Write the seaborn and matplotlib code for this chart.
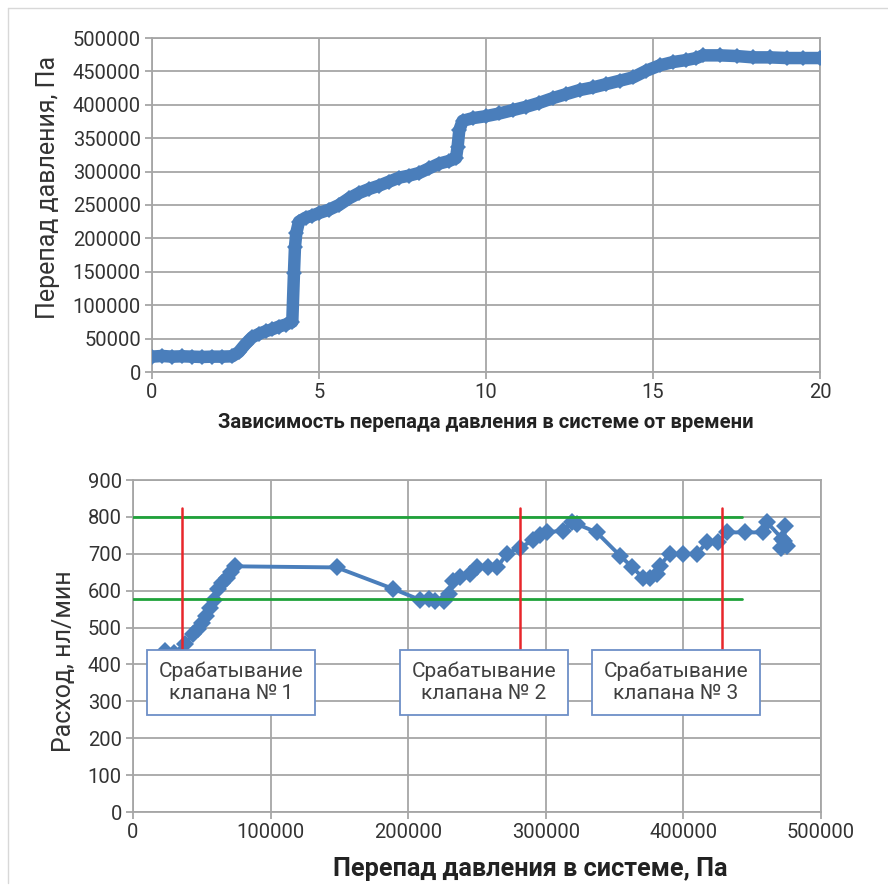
import matplotlib
matplotlib.use("Agg")
import matplotlib.pyplot as plt
import seaborn as sns
import pandas as pd
from matplotlib.lines import Line2D

# --- top chart: pressure drop vs time ---
time_s = [0.0, 0.3, 0.6, 0.9, 1.2, 1.5, 1.8, 2.1, 2.4, 2.6, 2.8, 3.0, 3.2, 3.4, 3.6, 3.8,
          4.0, 4.2, 4.25, 4.28, 4.32, 4.4, 4.6, 4.8, 5.0, 5.3, 5.6, 5.9, 6.2, 6.5, 6.8,
          7.1, 7.4, 7.7, 8.0, 8.3, 8.6, 8.9, 9.1, 9.15, 9.2, 9.3, 9.6, 10.0, 10.4, 10.8,
          11.2, 11.6, 12.0, 12.4, 12.8, 13.2, 13.6, 14.0, 14.4, 14.8, 15.2, 15.6, 16.0,
          16.3, 16.5, 17.0, 17.5, 18.0, 18.5, 19.0, 19.5, 20.0]
pressure_pa = [23000, 24000, 23000, 23500, 23000, 22500, 23000, 23000, 23500, 30000, 42000,
               52000, 57000, 61000, 64000, 68000, 71000, 75000, 148000, 187000, 208000,
               225000, 231000, 234000, 238000, 243000, 250000, 260000, 268000, 274000,
               279000, 285000, 291000, 294000, 298000, 305000, 312000, 316000, 320000,
               337000, 362000, 376000, 380000, 383000, 387000, 392000, 397000, 403000,
               410000, 416000, 422000, 426000, 431000, 436000, 441000, 451000, 459000,
               464000, 467000, 470000, 474000, 474000, 473000, 471000, 471000, 470000,
               470000, 470000]
top_xticks = [0, 5, 10, 15, 20]
top_yticks = [0, 50000, 100000, 150000, 200000, 250000, 300000, 350000, 400000, 450000, 500000]

# --- bottom chart: flow vs pressure drop ---
dp_pa = [23000, 30000, 37800, 43600, 47000, 50100, 53000, 56000, 59000, 61800, 65000, 68300,
         71000, 74100, 148000, 189000, 208600, 215000, 219500, 226000, 230000, 232600,
         238000, 245000, 250000, 258000, 264500, 271800, 281000, 290700, 296000, 300800,
         312500, 319000, 323000, 337000, 353900, 363000, 370600, 376000, 380800, 383000,
         390000, 400000, 409900, 417000, 425000, 431700, 445000, 457800, 460800, 472000,
         474000, 473000, 471000, 472000, 475000, 475000]
flow_nl = [437, 432, 455, 483, 497, 513, 530, 554, 575, 605, 620, 635, 650, 666, 663, 605,
           575, 578, 573, 573, 590, 627, 636, 645, 663, 663, 663, 700, 717, 736, 750, 758,
           763, 785, 780, 758, 695, 663, 635, 635, 646, 668, 700, 700, 700, 731, 731, 758,
           758, 758, 785, 785, 775, 735, 715, 695, 710, 730]
bot_xticks = [0, 100000, 200000, 300000, 400000, 500000]
bot_yticks = [0, 100, 200, 300, 400, 500, 600, 700, 800, 900]

limit_levels = [800, 578]
limit_x_end = 442600
valve_dp = [35400, 281250, 427800]
valve_top = 824
valve_labels = ["Срабатывание\nклапана №\u20091", "Срабатывание\nклапана № 2", "Срабатывание\nклапана № 3"]
valve_box_x = [71300, 255000, 394600]
valve_box_y = 351

sns.set_style("white")
plt.rcParams["font.family"] = ["Roboto", "DejaVu Sans"]

blue = "#4a7ebb"
grid_c = "#a6a6a6"
tick_c = "#333333"

fig = plt.figure(figsize=(8.88, 8.85), dpi=100)
ax1 = fig.add_axes([152 / 888, 1 - 372 / 885, 668 / 888, 334 / 885])
ax2 = fig.add_axes([133 / 888, 1 - 812 / 885, 688 / 888, 332 / 885])

top_df = pd.DataFrame({"t": time_s, "p": pressure_pa})
sns.lineplot(data=top_df, x="t", y="p", ax=ax1, color=blue, linewidth=9,
             marker="D", markersize=8, markeredgewidth=0, sort=False, zorder=3)

bot_df = pd.DataFrame({"dp": dp_pa, "q": flow_nl})
sns.lineplot(data=bot_df, x="dp", y="q", ax=ax2, color=blue, linewidth=2.8,
             marker="D", markersize=9, markeredgewidth=0, sort=False, zorder=3)

for lvl in limit_levels:
    ax2.plot([0, limit_x_end], [lvl, lvl], color="#1fa23a", linewidth=2, zorder=4)
for xv in valve_dp:
    ax2.plot([xv, xv], [valve_box_y, valve_top], color="#e8262b", linewidth=1.8, zorder=4)
for xv, lab in zip(valve_box_x, valve_labels):
    ax2.text(xv, valve_box_y, lab, ha="center", va="center", fontsize=15, color="#404040",
             linespacing=1.2, zorder=6,
             bbox=dict(boxstyle="square,pad=0.55", fc="white", ec="#6d8fc7", lw=1.3))

for ax, xt, yt in [(ax1, top_xticks, top_yticks), (ax2, bot_xticks, bot_yticks)]:
    ax.set_xticks(xt)
    ax.set_yticks(yt)
    ax.set_xlim(xt[0], xt[-1])
    ax.set_ylim(yt[0], yt[-1])
    ax.ticklabel_format(style="plain", useOffset=False)
    ax.grid(True, color=grid_c, linewidth=1.3)
    ax.set_axisbelow(True)
    for s in ax.spines.values():
        s.set_color(grid_c)
        s.set_linewidth(1.3)
    ax.tick_params(axis="both", colors=grid_c, labelcolor=tick_c, labelsize=14.5,
                   length=5, width=1.3, direction="out", left=True, bottom=True, pad=3)

ax1.set_xlabel("Зависимость перепада давления в системе от времени", fontsize=14.6,
               fontweight="bold", color="#222222", labelpad=8)
ax1.set_ylabel("Перепад давления, Па", fontsize=18, color="#333333")
ax1.yaxis.set_label_coords(-0.138, 0.554)
ax2.set_xlabel("Перепад давления в системе, Па", fontsize=18.2,
               fontweight="bold", color="#222222", labelpad=8)
ax2.xaxis.set_label_coords(0.577, -0.135)
ax2.set_ylabel("Расход, нл/мин", fontsize=18, color="#333333")
ax2.yaxis.set_label_coords(-0.083, 0.455)

# thin frame around the figure
fig.add_artist(Line2D([8 / 888, 8 / 888], [1 - 8 / 885, 1 - 883 / 885], color="#d8d8d8", lw=1))
fig.add_artist(Line2D([8 / 888, 1.0], [1 - 8 / 885, 1 - 8 / 885], color="#d8d8d8", lw=1))

fig.savefig("out.png", dpi=100)
